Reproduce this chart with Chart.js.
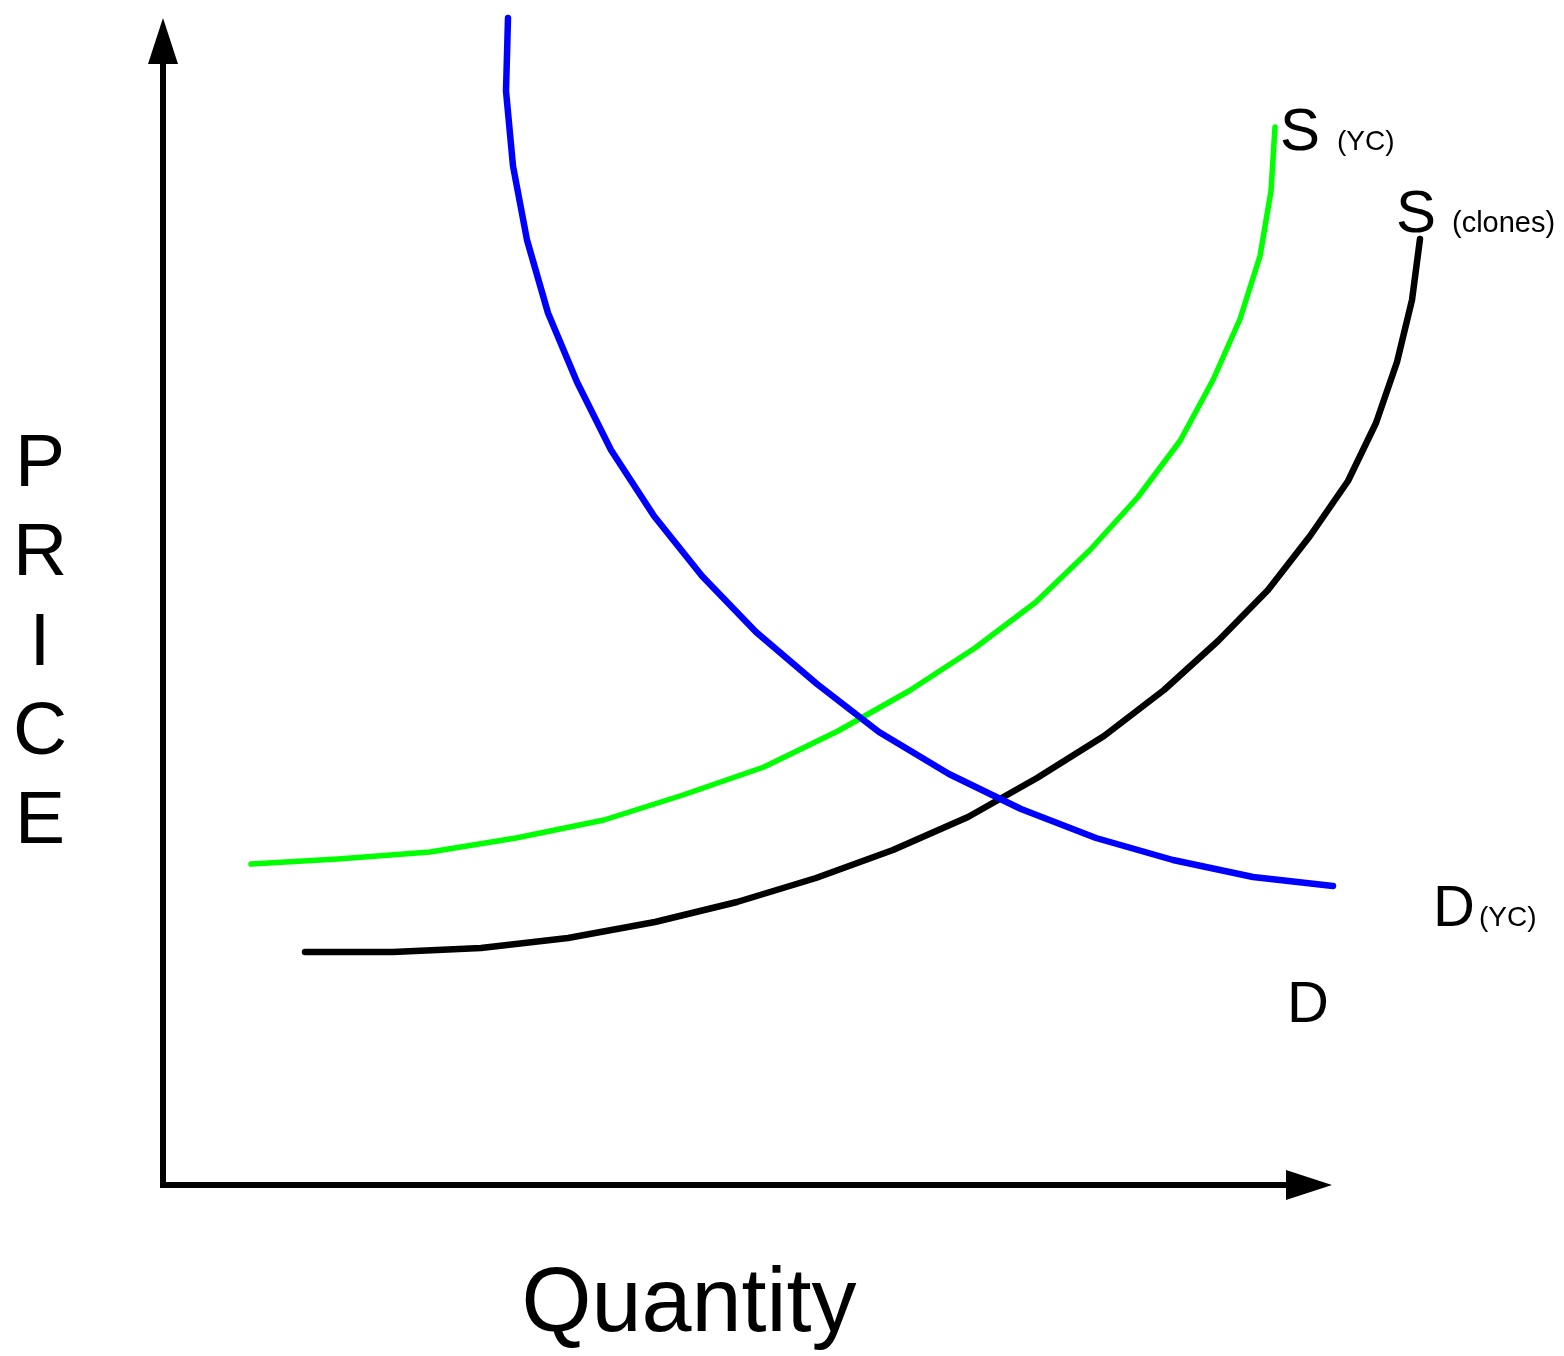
<!DOCTYPE html>
<html>
<head>
<meta charset="utf-8">
<title>Supply and demand</title>
<script src="https://cdn.jsdelivr.net/npm/chart.js@4/dist/chart.umd.min.js"></script>
<style>
  body { margin: 0; background: #fff; }
  #wrap { width: 1564px; height: 1356px; }
</style>
</head>
<body>
<div id="wrap"><canvas id="supplyChart" width="1564" height="1356"></canvas></div>
<script>
// curve points (quantity, price)
const demandYC = [
  [345, 1167], [343, 1094], [350, 1019], [364, 945], [385, 872], [414, 803],
  [448, 735], [491, 669], [539, 609], [593, 553], [654, 501], [716, 453],
  [786, 411], [858, 376], [933, 347], [1010, 325], [1090, 308], [1170, 299]
];
const supplyYC = [
  [88, 321], [175, 326], [267, 333], [353, 347], [441, 365], [520, 390],
  [601, 418], [675, 454], [746, 494], [812, 537], [873, 583], [927, 635],
  [975, 688], [1017, 744], [1050, 805], [1077, 866], [1097, 929], [1108, 994],
  [1112, 1058]
];
const supplyClones = [
  [142, 233], [230, 233], [318, 237], [405, 247], [492, 263], [574, 283],
  [653, 307], [730, 335], [805, 368], [874, 407], [941, 449], [1001, 495],
  [1055, 544], [1105, 595], [1147, 649], [1185, 704], [1213, 762], [1234, 823],
  [1249, 885], [1257, 946]
];

// curve labels: text, quantity, price, font size
const curveLabels = [
  ["S", 1117, 1035, 60], ["(YC)", 1174, 1035, 28],
  ["S", 1233, 953, 60], ["(clones)", 1289, 953, 29],
  ["D", 1270, 259, 58], ["(YC)", 1316, 259, 28],
  ["D", 1124, 163, 58]
];

const xTitle = "Quantity";
const yTitle = ["P", "R", "I", "C", "E"];

// axis ends (arrow tips) in data units
const xAxisEnd = 1169;
const yAxisEnd = 1167;

function toXY(arr) {
  return arr.map(p => ({ x: p[0], y: p[1] }));
}

const FONT = "'Liberation Sans', Arial, sans-serif";

// draws axes with arrow heads, axis titles and curve labels
const diagramPlugin = {
  id: 'diagram',
  afterDatasetsDraw(chart) {
    const ctx = chart.ctx;
    const xs = chart.scales.x, ys = chart.scales.y;
    const ox = xs.getPixelForValue(0), oy = ys.getPixelForValue(0);
    const xTip = xs.getPixelForValue(xAxisEnd);
    const yTip = ys.getPixelForValue(yAxisEnd);
    const headLen = 46, headHalf = 15;

    ctx.save();
    ctx.strokeStyle = '#000';
    ctx.fillStyle = '#000';
    ctx.lineWidth = 6;
    ctx.lineCap = 'butt';
    ctx.beginPath();
    ctx.moveTo(ox, oy + 3);
    ctx.lineTo(ox, yTip + headLen);
    ctx.moveTo(ox - 3, oy);
    ctx.lineTo(xTip - headLen, oy);
    ctx.stroke();

    // arrow heads
    ctx.beginPath();
    ctx.moveTo(ox, yTip);
    ctx.lineTo(ox - headHalf, yTip + headLen);
    ctx.lineTo(ox + headHalf, yTip + headLen);
    ctx.closePath();
    ctx.fill();
    ctx.beginPath();
    ctx.moveTo(xTip, oy);
    ctx.lineTo(xTip - headLen, oy - headHalf);
    ctx.lineTo(xTip - headLen, oy + headHalf);
    ctx.closePath();
    ctx.fill();

    // curve labels
    ctx.textAlign = 'left';
    ctx.textBaseline = 'alphabetic';
    curveLabels.forEach(l => {
      ctx.font = l[3] + 'px ' + FONT;
      ctx.fillText(l[0], xs.getPixelForValue(l[1]), ys.getPixelForValue(l[2]));
    });

    // axis titles
    ctx.textAlign = 'center';
    ctx.font = '90px ' + FONT;
    ctx.fillText(xTitle, 689, 1331);
    ctx.font = '75px ' + FONT;
    yTitle.forEach((ch, i) => {
      ctx.fillText(ch, 40, 486 + i * 89.3);
    });
    ctx.restore();
  }
};

const lineStyle = {
  showLine: true,
  pointRadius: 0,
  borderWidth: 6.5,
  borderCapStyle: 'round',
  borderJoinStyle: 'round',
  tension: 0,
  clip: false
};

const ctx = document.getElementById('supplyChart').getContext('2d');
new Chart(ctx, {
  type: 'scatter',
  data: {
    datasets: [
      Object.assign({}, lineStyle, { label: 'D (YC)', data: toXY(demandYC), borderColor: '#0000ff' }),
      Object.assign({}, lineStyle, { label: 'S (YC)', data: toXY(supplyYC), borderColor: '#00ff00', borderWidth: 5.5 }),
      Object.assign({}, lineStyle, { label: 'S (clones)', data: toXY(supplyClones), borderColor: '#000000' })
    ]
  },
  options: {
    responsive: false,
    animation: false,
    layout: { padding: { left: 163, right: 1, top: 0, bottom: 171 } },
    plugins: {
      legend: { display: false },
      tooltip: { enabled: false }
    },
    scales: {
      x: { type: 'linear', min: 0, max: 1400, display: false },
      y: { type: 'linear', min: 0, max: 1185, display: false }
    }
  },
  plugins: [diagramPlugin]
});
</script>
</body>
</html>
